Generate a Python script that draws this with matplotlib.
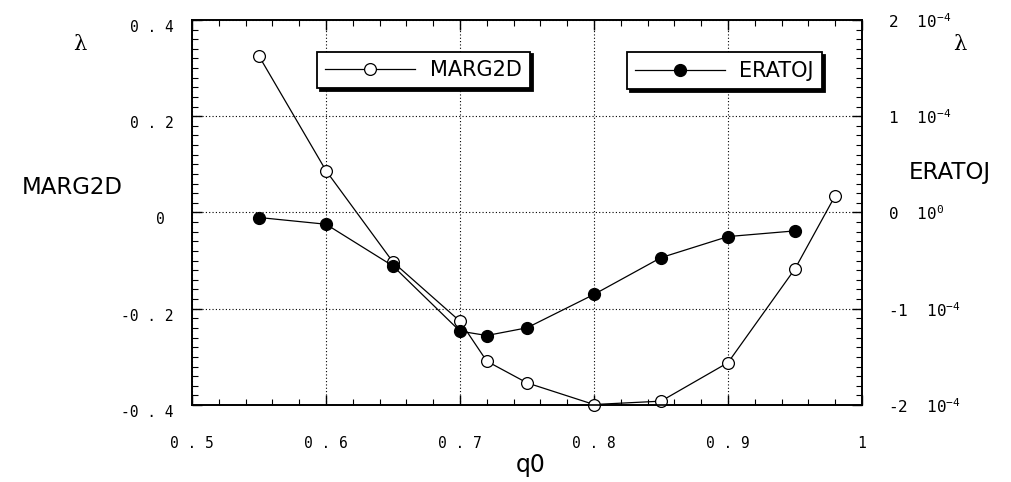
import matplotlib
matplotlib.use('Agg')
import matplotlib.pyplot as plt
from matplotlib.ticker import MultipleLocator

plt.rcParams['font.family'] = ['DejaVu Sans']
plt.rcParams['mathtext.fontset'] = 'custom'
plt.rcParams['mathtext.rm'] = 'DejaVu Sans Mono'
plt.rcParams['mathtext.it'] = 'DejaVu Sans Mono'
plt.rcParams['mathtext.default'] = 'rm'

# ---- data ----
q0 = [0.55, 0.60, 0.65, 0.70, 0.72, 0.75, 0.80, 0.85, 0.90, 0.95, 0.98]
marg2d = [0.325, 0.087, -0.103, -0.226, -0.309, -0.354, -0.399, -0.392, -0.312, -0.117, 0.035]

q0_eratoj = [0.55, 0.60, 0.65, 0.70, 0.72, 0.75, 0.80, 0.85, 0.90, 0.95]
eratoj = [-0.052e-4, -0.122e-4, -0.556e-4, -1.233e-4, -1.278e-4, -1.198e-4,
          -0.851e-4, -0.469e-4, -0.250e-4, -0.191e-4]

x_ticks = [0.5, 0.6, 0.7, 0.8, 0.9, 1.0]
x_tick_labels = ['0 . 5', '0 . 6', '0 . 7', '0 . 8', '0 . 9', '1']
y_left_ticks = [-0.4, -0.2, 0.0, 0.2, 0.4]
y_left_labels = ['-0 . 4', '-0 . 2', '0 ', '0 . 2', '0 . 4']
y_right_ticks = [-2e-4, -1e-4, 0.0, 1e-4, 2e-4]
y_right_labels = [r'-2  $10^{-4}$', r'-1  $10^{-4}$', r'0  $10^{0}$',
                  r'1  $10^{-4}$', r'2  $10^{-4}$']

# ---- figure ----
fig = plt.figure(figsize=(10.12, 4.82), dpi=100)
ax = fig.add_axes([0.18972, 0.15975, 0.66206, 0.79876])
ax2 = ax.twinx()

ax.set_xlim(0.5, 1.0)
ax.set_ylim(-0.4, 0.4)
ax2.set_ylim(-2e-4, 2e-4)

l1, = ax.plot(q0, marg2d, color='k', lw=0.9, marker='o', ms=8.5,
              mfc='white', mec='k', mew=0.9, clip_on=False, zorder=3)
l2, = ax2.plot(q0_eratoj, eratoj, color='k', lw=0.9, marker='o', ms=8.5,
               mfc='k', mec='k', clip_on=False, zorder=3)

# grid
ax.grid(True, which='major', ls=(0, (1, 2)), lw=0.8, color='k')

# ticks
ax.set_xticks(x_ticks, labels=x_tick_labels, family='DejaVu Sans Mono', fontsize=10.5)
ax.set_yticks(y_left_ticks, labels=y_left_labels, family='DejaVu Sans Mono', fontsize=10.5)
ax2.set_yticks(y_right_ticks, labels=y_right_labels, family='DejaVu Sans Mono', fontsize=11.5)
ax.xaxis.set_minor_locator(MultipleLocator(0.02))
ax.yaxis.set_minor_locator(MultipleLocator(0.02))
ax2.yaxis.set_minor_locator(MultipleLocator(1e-5))

ax.tick_params(which='both', direction='in', top=True, right=False, color='k')
ax.tick_params(which='major', length=7, width=1)
ax.tick_params(which='minor', length=4, width=0.8)
ax.tick_params(axis='x', pad=22)
ax.tick_params(axis='y', pad=13)
ax2.tick_params(which='both', direction='in', color='k')
ax2.tick_params(which='major', length=7, width=1, pad=19)
ax2.tick_params(which='minor', length=4, width=0.8)
for lab in ax.get_yticklabels():
    lab.set_va('top')

for a in (ax, ax2):
    for s in a.spines.values():
        s.set_linewidth(1.2)

# legends
common = dict(loc='center', fontsize=15, frameon=True, fancybox=False,
              shadow={'color': 'k', 'alpha': 1}, edgecolor='k', framealpha=1,
              borderpad=0.4, handlelength=4.3, handletextpad=0.7, borderaxespad=0)
leg1 = ax2.legend([l1], ['MARG2D'], bbox_to_anchor=(0.3455, 0.870), **common)
leg1.get_frame().set_linewidth(1.3)
ax2.add_artist(leg1)
leg2 = ax2.legend([l2], ['ERATOJ'], bbox_to_anchor=(0.795, 0.868), **common)
leg2.get_frame().set_linewidth(1.3)

# side labels
W, H = 1012.0, 482.0
fig.text(80 / W, 1 - 45 / H, 'λ', family='DejaVu Serif', fontsize=15, ha='center', va='center')
fig.text(960 / W, 1 - 44 / H, 'λ', family='DejaVu Serif', fontsize=15, ha='center', va='center')
fig.text(72 / W, 1 - 188 / H, 'MARG2D', fontsize=16.5, ha='center', va='center')
fig.text(950 / W, 1 - 172 / H, 'ERATOJ', fontsize=16.5, ha='center', va='center')
fig.text(531 / W, 1 - 465 / H, 'q0', fontsize=17, ha='center', va='center')

fig.savefig('out.png', dpi=100)
